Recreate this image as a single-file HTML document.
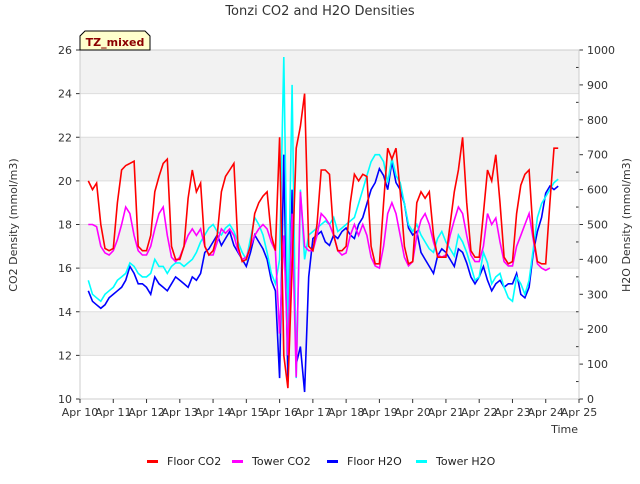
<!DOCTYPE html>
<html><head><meta charset="utf-8"><style>
body{margin:0;background:#fff;font-family:"DejaVu Sans","Liberation Sans",sans-serif}
text{font-family:"DejaVu Sans","Liberation Sans",sans-serif}
</style></head><body>
<svg id="chart" width="640" height="480">
<text x="320" y="15" text-anchor="middle" font-size="13" fill="#333">Tonzi CO2 and H2O Densities</text>
<g id="bands"></g>
<g id="grid"></g>
<g id="series"></g>
<g id="axes"></g>
<g>
<path d="M80,50 L80,36 L85,31 L145,31 L150,36 L150,50 Z" fill="#ffffcc" stroke="#000" stroke-width="1"/>
<text x="115" y="46" text-anchor="middle" font-size="11" font-weight="bold" fill="#8b0000">TZ_mixed</text>
</g>
<text transform="translate(17,225) rotate(-90)" text-anchor="middle" font-size="11" fill="#333">CO2 Density (mmol/m3)</text>
<text transform="translate(630,225) rotate(-90)" text-anchor="middle" font-size="11" fill="#333">H2O Density (mmol/m3)</text>
<text x="578" y="433" text-anchor="end" font-size="11" fill="#333">Time</text>
<g id="legend"></g>
</svg>
<script>
const xTickLabels=["Apr 10","Apr 11","Apr 12","Apr 13","Apr 14","Apr 15","Apr 16","Apr 17","Apr 18","Apr 19","Apr 20","Apr 21","Apr 22","Apr 23","Apr 24","Apr 25"];
const leftTicks=[10,12,14,16,18,20,22,24,26];
const rightTicks=[0,100,200,300,400,500,600,700,800,900,1000];
const floorCO2=[20.0,19.6,19.9,18.0,16.9,16.8,
16.9,19.0,20.5,20.7,20.8,20.9,17.0,16.8,
16.8,17.5,19.5,20.2,20.8,21.0,17.0,16.4,
16.4,17.0,19.2,20.5,19.5,19.9,17.0,16.6,
16.8,17.5,19.5,20.2,20.5,20.8,17.0,16.3,
16.4,17.0,18.5,19.0,19.3,19.5,17.5,16.8,
22.0,12.0,10.5,16.0,21.5,22.5,24.0,17.0,
16.8,18.0,20.5,20.5,20.3,17.5,16.8,16.8,
17.0,19.0,20.3,20.0,20.3,20.2,17.0,16.2,
16.2,19.0,21.5,21.0,21.5,19.5,17.0,16.2,
16.3,19.0,19.5,19.2,19.5,17.5,16.5,16.5,
16.5,18.0,19.5,20.5,22.0,19.0,16.8,16.5,
16.5,18.5,20.5,20.0,21.2,19.0,16.5,16.2,
16.3,18.5,19.8,20.3,20.5,17.5,16.3,16.2,
16.2,19.0,21.5,21.5];
const towerCO2=[18.0,18.0,17.9,17.0,16.7,16.6,
16.8,17.3,18.0,18.8,18.5,17.5,16.8,16.6,
16.6,17.0,17.8,18.5,18.8,17.5,16.5,16.3,
16.5,17.0,17.5,17.8,17.5,17.8,17.0,16.6,
16.6,17.2,17.8,17.6,17.8,17.5,16.8,16.4,
16.5,17.0,17.5,17.8,18.0,17.8,17.2,16.8,
13.0,17.5,12.0,18.5,11.0,19.5,17.0,16.8,
16.8,17.5,18.5,18.3,18.0,17.5,16.8,16.6,
16.7,17.5,18.0,17.5,18.0,17.5,16.5,16.1,
16.0,17.0,18.5,19.0,18.5,17.5,16.5,16.1,
16.3,17.5,18.2,18.5,18.0,17.2,16.6,16.5,
16.6,17.5,18.2,18.8,18.5,17.5,16.6,16.3,
16.3,17.0,18.5,18.0,18.3,17.2,16.3,16.1,
16.1,17.0,17.5,18.0,18.5,17.3,16.2,16.0,
15.9,16.0];
const floorH2O=[310,280,270,260,270,290,
300,310,320,340,380,360,330,330,
320,300,350,330,320,310,330,350,
340,330,320,350,340,360,420,430,
450,470,440,460,480,440,420,400,
380,420,470,450,430,400,340,310,
60,700,50,600,100,150,20,350,
460,470,480,450,440,470,460,480,
490,470,460,500,520,560,600,620,
660,640,600,680,620,600,560,490,
470,480,420,400,380,360,410,430,
420,400,380,430,420,390,350,330,
350,380,340,310,330,340,320,330,
330,360,300,290,320,420,480,520,
590,610,600,610];
const towerH2O=[340,300,290,280,300,310,
320,340,350,360,390,380,360,350,
350,360,400,380,380,360,380,390,
390,380,390,400,420,450,470,490,
500,480,470,490,500,480,450,420,
400,460,520,500,470,420,360,330,
400,980,200,900,60,600,400,470,
480,490,500,510,500,520,480,490,
500,510,520,560,600,640,680,700,
700,680,620,690,640,620,560,500,
480,500,470,450,430,420,460,480,
450,430,410,470,450,420,380,340,
350,420,390,330,350,360,320,290,
280,350,330,300,340,430,520,560,
580,600,620,630];
const X0=80,X1=579,Y0=399,Y1=50;
const xs=d=>X0+(X1-X0)*d/15;
const yL=v=>Y0-(Y0-Y1)*(v-10)/16;
const yR=v=>Y0-(Y0-Y1)*v/1000;
const NS="http://www.w3.org/2000/svg";
function mk(tag,attrs,parent){const e=document.createElementNS(NS,tag);for(const k in attrs)e.setAttribute(k,attrs[k]);parent.appendChild(e);return e;}
const bands=document.getElementById('bands'),grid=document.getElementById('grid'),axes=document.getElementById('axes'),ser=document.getElementById('series'),leg=document.getElementById('legend');
mk('rect',{x:X0,y:Y1,width:X1-X0,height:Y0-Y1,fill:'#fff'},bands);
[12,16,20,24].forEach(v=>{const r=mk('rect',{x:X0,y:yL(v+2),width:X1-X0,height:yL(v)-yL(v+2),fill:'#f2f2f2'},bands);

});
leftTicks.forEach(v=>{mk('line',{x1:X0,x2:X1,y1:yL(v),y2:yL(v),stroke:'#ddd'},grid);
const t=mk('text',{x:X0-8,y:yL(v)+4,'text-anchor':'end','font-size':11,fill:'#333'},axes);t.textContent=v;


mk('line',{x1:X0-4,x2:X0,y1:yL(v),y2:yL(v),stroke:'#333'},axes);});
rightTicks.forEach(v=>{const t=mk('text',{x:X1+8,y:yR(v)+4,'font-size':11,fill:'#333'},axes);t.textContent=v;


mk('line',{x1:X1,x2:X1+4,y1:yR(v),y2:yR(v),stroke:'#333'},axes);
if(v<1000)mk('line',{x1:X1-3,x2:X1,y1:yR(v+50),y2:yR(v+50),stroke:'#333'},axes);});
mk('rect',{x:X0,y:Y1,width:X1-X0,height:Y0-Y1,fill:'none',stroke:'#ccc'},axes);
xTickLabels.forEach((s,i)=>{const t=mk('text',{x:xs(i),y:416,'text-anchor':'middle','font-size':11,fill:'#333'},axes);t.textContent=s;


mk('line',{x1:xs(i),x2:xs(i),y1:Y0,y2:Y0+4,stroke:'#333'},axes);});
function draw(arr,yf,color,name){const pts=arr.map((v,i)=>xs(0.25+i*0.125).toFixed(1)+','+yf(v).toFixed(1)).join(' ');
const p=mk('polyline',{points:pts,fill:'none',stroke:color,'stroke-width':1.6},ser);

}
draw(floorH2O,yR,'#0000ff','floor-h2o-line');
draw(towerH2O,yR,'#00ffff','tower-h2o-line');
draw(towerCO2,yL,'#ff00ff','tower-co2-line');
draw(floorCO2,yL,'#ff0000','floor-co2-line');
[['Floor CO2','#ff0000',147],['Tower CO2','#ff00ff',232],['Floor H2O','#0000ff',327],['Tower H2O','#00ffff',416]].forEach(([s,c,x])=>{
const g=mk('g',{},leg);


mk('rect',{x:x,y:460,width:11,height:3,fill:c},g);
const t=mk('text',{x:x+20,y:465,'font-size':11,fill:'#222'},g);t.textContent=s;});
</script>
</body></html>
